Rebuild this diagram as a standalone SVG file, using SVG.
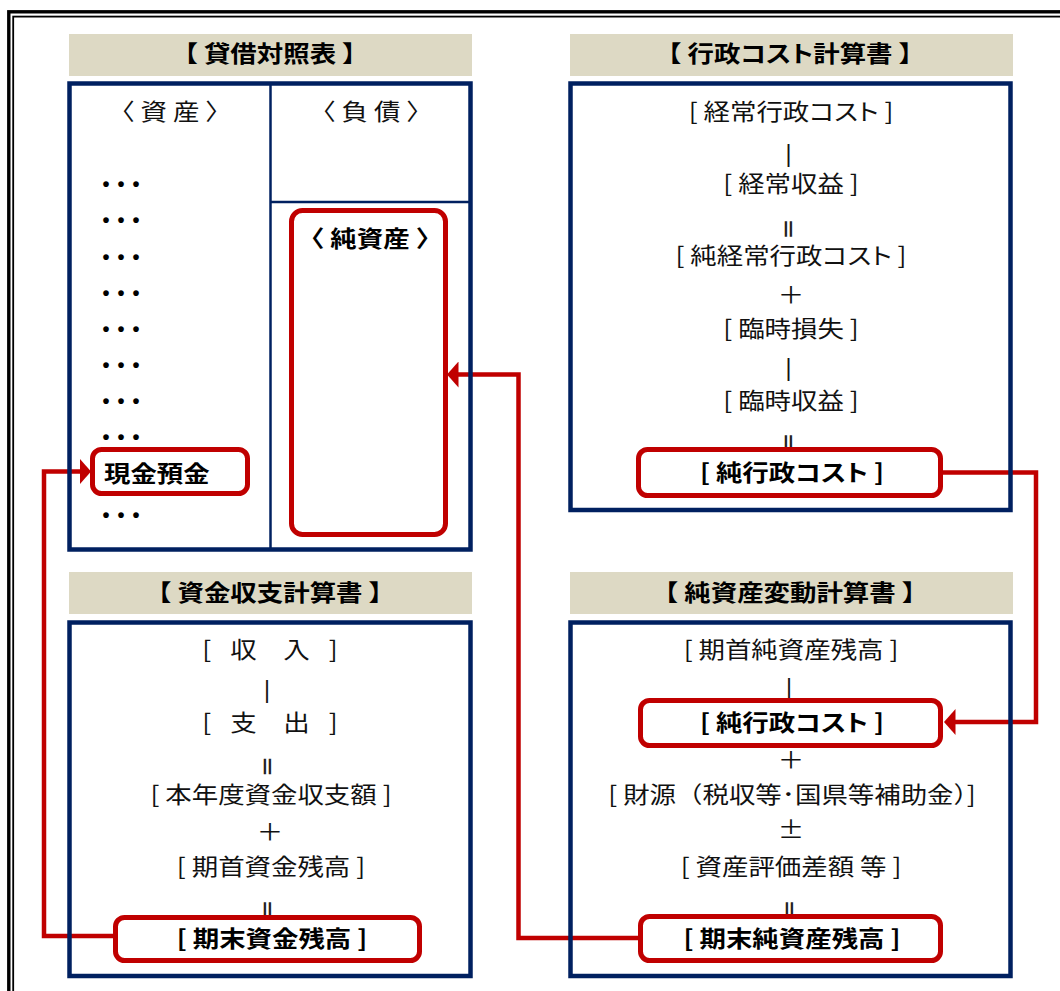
<svg xmlns="http://www.w3.org/2000/svg" width="1060" height="991" viewBox="0 0 1060 991">
<style>
.bg{fill:#fff}
.frame{fill:none;stroke:#000}
.title{fill:#DDD9C4}
.box{fill:none;stroke:#002060;stroke-width:4.5}
.div{stroke:#002060;stroke-width:2.5}
.hl{fill:#fff;stroke:#C00000;stroke-width:5}
.conn{fill:none;stroke:#C00000;stroke-width:4.5;stroke-linejoin:miter}
text{font-family:'Noto Sans CJK JP','Noto Sans CJK SC',sans-serif;font-size:23px;fill:#111;text-anchor:middle}
.b{font-weight:700;fill:#000}
.k{font-feature-settings:'palt'}
.eq{font-size:22px;font-weight:700;fill:#222}
.op{font-family:'Liberation Sans',Arial,sans-serif;font-size:23px}
.dots{font-family:'Liberation Sans',Arial,sans-serif;font-size:20px;font-weight:700;fill:#000;text-anchor:start;letter-spacing:8px}
.st{text-anchor:start}
</style>
<defs>
<marker id="ah" markerUnits="userSpaceOnUse" markerWidth="12" markerHeight="26" viewBox="0 0 12 26" refX="0.5" refY="13" orient="auto">
<path d="M0,0 L11.5,13 L0,26 Z" fill="#C00000"/>
</marker>
</defs>
<rect class="bg" x="0" y="0" width="1060" height="991"/>
<g id="frame">
<rect class="frame" x="8.8" y="11.8" width="1100" height="1050" stroke-width="3.4"/>
<rect class="frame" x="13.2" y="16.6" width="1100" height="1050" stroke-width="1.8"/>
</g>
<g id="titles">
<rect class="title" x="69" y="34" width="403" height="42"/>
<rect class="title" x="570" y="34" width="443" height="42"/>
<rect class="title" x="69" y="572" width="403" height="42"/>
<rect class="title" x="570" y="572" width="443" height="42"/>
<text class="b" transform="translate(270,61.5) scale(1.15,1)">【 貸借対照表 】</text>
<text class="b" transform="translate(790,61.5) scale(1.15,1)">【 行政<tspan class="k">コスト</tspan>計算書 】</text>
<text class="b" transform="translate(270,600.5) scale(1.15,1)">【 資金収支計算書 】</text>
<text class="b" transform="translate(790,600.5) scale(1.15,1)">【 純資産変動計算書 】</text>
</g>
<g id="connectors">
<path class="conn" d="M943,472.5 H1036 V722 H955" marker-end="url(#ah)"/>
<path class="conn" d="M640,938 H518.5 V374.5 H458" marker-end="url(#ah)"/>
<path class="conn" d="M115,936 H44 V471.5 H80" marker-end="url(#ah)"/>
</g>
<g id="balance-sheet">
<rect class="box" x="69.5" y="83.5" width="401" height="466"/>
<line class="div" x1="270.5" y1="83.5" x2="270.5" y2="549.5"/>
<line class="div" x1="270.5" y1="202" x2="470.5" y2="202"/>
<text transform="translate(170,119.5) scale(1.15,1)">〈 資 産 〉</text>
<text transform="translate(371,119.5) scale(1.15,1)">〈 負 債 〉</text>
<text class="dots" x="102.5" y="190.5">•••</text>
<text class="dots" x="102.5" y="226.5">•••</text>
<text class="dots" x="102.5" y="263.5">•••</text>
<text class="dots" x="102.5" y="299.5">•••</text>
<text class="dots" x="102.5" y="335.5">•••</text>
<text class="dots" x="102.5" y="371.5">•••</text>
<text class="dots" x="102.5" y="407.5">•••</text>
<text class="dots" x="102.5" y="443.5">•••</text>
<text class="dots" x="102.5" y="521.5">•••</text>
<g id="cash">
<rect class="hl" x="92.5" y="449.5" width="155" height="44" rx="9"/>
<text class="b st" transform="translate(104,481.5) scale(1.15,1)">現金預金</text>
</g>
<g id="net-assets">
<rect class="hl" x="291.5" y="210.5" width="154" height="324" rx="11"/>
<text class="b" transform="translate(370,247) scale(1.15,1)">〈 純資産 〉</text>
</g>
</g>
<g id="admin-cost">
<rect class="box" x="570.5" y="83.5" width="440" height="426.5"/>
<text transform="translate(791,119.5) scale(1.15,1)">[ 経常行政<tspan class="k">コスト</tspan> ]</text>
<text class="op" x="788.5" y="162">|</text>
<text transform="translate(791,191.5) scale(1.15,1)">[ 経常収益 ]</text>
<text class="eq" transform="translate(788,229) rotate(90)" y="8.3">＝</text>
<text transform="translate(791,264) scale(1.15,1)">[ 純経常行政<tspan class="k">コスト</tspan> ]</text>
<text transform="translate(791,302.5) scale(1.15,1)">＋</text>
<text transform="translate(791,336.5) scale(1.15,1)">[ 臨時損失 ]</text>
<text class="op" x="788.5" y="376">|</text>
<text transform="translate(791,408.5) scale(1.15,1)">[ 臨時収益 ]</text>
<text class="eq" transform="translate(788,443) rotate(90)" y="8.3">＝</text>
<g id="net-admin-cost">
<rect class="hl" x="638.5" y="449.5" width="302" height="46" rx="9"/>
<text class="b" transform="translate(792,481) scale(1.15,1)">[ 純行政<tspan class="k">コスト</tspan> ]</text>
</g>
</g>
<g id="cash-flow">
<rect class="box" x="69.5" y="622.5" width="401" height="353.5"/>
<text transform="translate(270,658) scale(1.15,1)">[ &#8194;収　入&#8194; ]</text>
<text class="op" x="267" y="698">|</text>
<text transform="translate(270,730.5) scale(1.15,1)">[ &#8194;支　出&#8194; ]</text>
<text class="eq" transform="translate(267.5,766.5) rotate(90)" y="8.3">＝</text>
<text transform="translate(271,802.5) scale(1.15,1)">[ 本年度資金収支額 ]</text>
<text transform="translate(270,839.5) scale(1.15,1)">＋</text>
<text transform="translate(271,874.5) scale(1.15,1)">[ 期首資金残高 ]</text>
<text class="eq" transform="translate(267.5,910) rotate(90)" y="8.3">＝</text>
<g id="closing-cash">
<rect class="hl" x="115.5" y="917.5" width="304" height="43" rx="9"/>
<text class="b" transform="translate(272,947) scale(1.15,1)">[ 期末資金残高 ]</text>
</g>
</g>
<g id="net-assets-change">
<rect class="box" x="570.5" y="622.5" width="440" height="353.5"/>
<text transform="translate(791,658) scale(1.15,1)">[ 期首純資産残高 ]</text>
<text class="op" x="789" y="696">|</text>
<text transform="translate(791,768) scale(1.15,1)">＋</text>
<text transform="translate(792,802.5) scale(1.15,1)">[ 財源（税収等･国県等補助金）]</text>
<text transform="translate(791,838) scale(1.15,1)">±</text>
<text transform="translate(791,874.5) scale(1.15,1)">[ 資産評価差額 等 ]</text>
<text class="eq" transform="translate(789,910) rotate(90)" y="8.3">＝</text>
<g id="net-admin-cost-2">
<rect class="hl" x="640.5" y="700.5" width="300" height="45" rx="9"/>
<text class="b" transform="translate(792,731) scale(1.15,1)">[ 純行政<tspan class="k">コスト</tspan> ]</text>
</g>
<g id="closing-net-assets">
<rect class="hl" x="640.5" y="916.5" width="300" height="44" rx="9"/>
<text class="b" transform="translate(792,946.5) scale(1.15,1)">[ 期末純資産残高 ]</text>
</g>
</g>
</svg>
